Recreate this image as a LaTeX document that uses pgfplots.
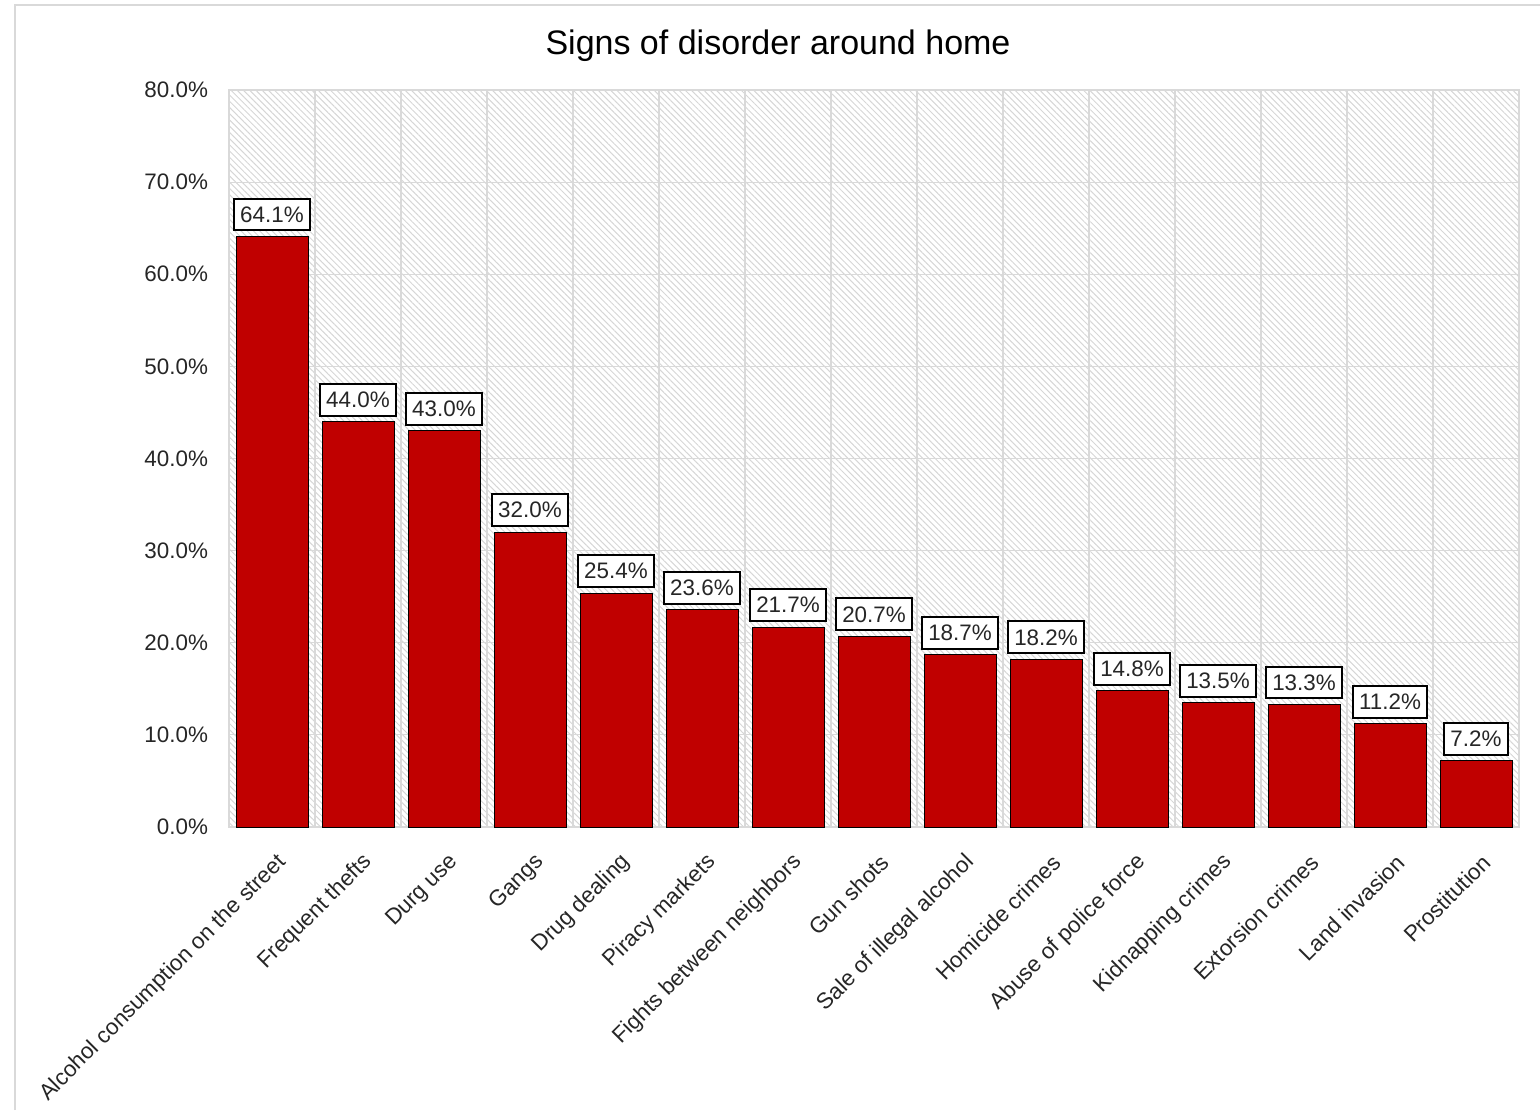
\documentclass[border=0pt]{standalone}
\usepackage{pgfplots}
\pgfplotsset{compat=1.18}
\usepackage{fontspec}
\setmainfont{Liberation Sans}
\usetikzlibrary{patterns.meta}

\definecolor{barred}{HTML}{C00000}
\definecolor{gridgray}{HTML}{D9D9D9}
\definecolor{hatch}{HTML}{D6D6D6}
\definecolor{txt}{HTML}{262626}

\begin{document}
\begin{tikzpicture}
  % page frame (1px = 0.5pt)
  \path[use as bounding box] (0,0) rectangle (770pt,555pt);
  \draw[gridgray, line width=1.3pt] (7.5pt,0) -- (7.5pt,552.5pt) -- (770pt,552.5pt);
  \node[font=\fontsize{17}{20}\selectfont, text=black] at (389pt,532pt) {Signs of disorder around home};

  \begin{axis}[
    at={(114.5pt,141.5pt)}, anchor=south west,
    scale only axis, width=645pt, height=368.5pt,
    /pgf/number format/assume math mode=true,
    ybar, bar width=36pt,
    xmin=-0.5, xmax=14.5, ymin=0, ymax=80,
    ytick={0,10,...,80},
    xtick={0,...,14},
    minor xtick={0.5,1.5,...,13.5},
    xticklabels={Alcohol consumption on the street, Frequent thefts, Durg use, Gangs,
      Drug dealing, Piracy markets, Fights between neighbors, Gun shots,
      Sale of illegal alcohol, Homicide crimes, Abuse of police force,
      Kidnapping crimes, Extorsion crimes, Land invasion, Prostitution},
    major tick length=0pt, minor tick length=0pt,
    ymajorgrids, xminorgrids,
    grid style={gridgray, line width=0.6pt},
    minor grid style={gridgray, line width=0.6pt},
    axis line style={gridgray, line width=0.6pt},
    axis background/.style={pattern={Lines[angle=-45, distance=2.2pt, line width=0.5pt]}, pattern color=hatch},
    tick label style={font=\fontsize{11.2}{13}\selectfont, text=txt},
    yticklabel={\pgfmathprintnumber[fixed, fixed zerofill, precision=1]{\tick}\%},
    yticklabel style={xshift=-7pt},
    xticklabel style={rotate=45, anchor=east, xshift=-4pt, yshift=-15pt},
    nodes near coords={\pgfmathprintnumber[fixed, fixed zerofill, precision=1]{\pgfplotspointmeta}\%},
    every node near coord/.append style={font=\fontsize{11.2}{13}\selectfont, text=txt,
      draw=black, line width=1pt, fill=white, inner xsep=3pt, inner ysep=4pt, yshift=2.5pt},
  ]
  \addplot[fill=barred, draw=black, line width=0.5pt] coordinates {
    (0,64.1) (1,44.0) (2,43.0) (3,32.0) (4,25.4) (5,23.6) (6,21.7) (7,20.7)
    (8,18.7) (9,18.2) (10,14.8) (11,13.5) (12,13.3) (13,11.2) (14,7.2)
  };
  \end{axis}
\end{tikzpicture}
\end{document}
